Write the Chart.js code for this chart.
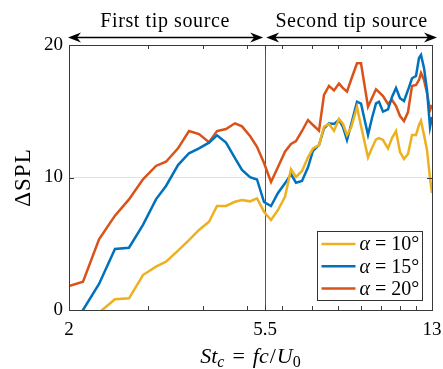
<!DOCTYPE html>
<html><head><meta charset="utf-8">
<script src="https://cdn.jsdelivr.net/npm/chart.js@4"></script>
<style>html,body{margin:0;padding:0;background:#fff;}#wrap{width:443px;height:369px;position:relative;}</style>
</head><body><div id="wrap"><canvas id="c" width="443" height="369"></canvas></div>
<script>
// Strouhal number St_c (x values)
const stc = [2.000, 2.150, 2.335, 2.535, 2.725, 2.929, 3.132, 3.298, 3.509, 3.713, 3.910, 4.117, 4.290, 4.494, 4.707, 4.880, 5.086, 5.273, 5.467, 5.668, 5.876, 6.092, 6.283, 6.447, 6.650, 6.859, 7.038, 7.259, 7.449, 7.643, 7.843, 8.048, 8.216, 8.387, 8.562, 8.831, 9.015, 9.346, 9.541, 9.740, 9.891, 10.098, 10.361, 10.577, 10.798, 11.023, 11.252, 11.487, 11.726, 11.971, 12.157, 12.283, 12.475, 12.669, 12.867, 13.000];
// ΔSPL for alpha = 10°
const dSPL10 = [null, null, -0.2, 0.81, 0.88, 2.64, 3.27, 3.65, 4.48, 5.28, 6.04, 6.66, 7.85, 7.85, 8.17, 8.30, 8.20, 8.43, 7.42, 6.79, 7.55, 8.55, 10.62, 10.04, 10.49, 11.52, 12.20, 12.45, 13.83, 14.04, 13.53, 14.42, 14.04, 13.21, 13.74, 15.32, 13.89, 11.52, 12.23, 12.88, 12.98, 12.83, 12.20, 12.98, 13.51, 11.92, 11.40, 11.77, 13.21, 13.21, 13.96, 14.29, 13.21, 12.08, 9.96, 8.83];
// ΔSPL for alpha = 15°
const dSPL15 = [-1.7, 0, 1.96, 4.60, 4.70, 6.42, 8.35, 9.36, 10.94, 11.83, 12.20, 12.63, 13.18, 12.63, 11.47, 10.57, 10.02, 9.85, 8.15, 7.85, 8.83, 9.56, 10.26, 9.61, 9.74, 10.77, 12.02, 12.45, 13.71, 14.09, 14.04, 14.34, 13.81, 12.83, 13.96, 15.72, 15.58, 13.21, 14.49, 15.60, 15.72, 14.97, 15.15, 16.08, 16.75, 15.98, 15.77, 16.60, 17.49, 17.66, 19.02, 19.25, 18.26, 16.60, 13.81, 14.57];
// ΔSPL for alpha = 20°
const dSPL20 = [1.81, 2.14, 5.34, 7.12, 8.35, 9.86, 10.87, 11.19, 12.20, 13.51, 13.28, 12.66, 13.51, 13.66, 14.09, 13.86, 13.13, 12.32, 11.09, 9.66, 10.79, 11.95, 12.53, 12.75, 13.51, 14.34, 13.96, 13.53, 16.23, 16.91, 16.57, 17.09, 16.75, 16.48, 17.36, 18.62, 18.62, 15.34, 16.00, 16.66, 16.45, 16.15, 15.55, 15.85, 15.40, 14.64, 14.26, 14.94, 16.91, 16.98, 17.36, 17.89, 17.36, 16.38, 15.09, 15.47];

const alphaDeg = [10, 15, 20];
const seriesColors = ['#EDB120', '#0072BD', '#D95319'];
const xTicks = [2, 5.5, 13];
const xMinorTicks = [3, 4, 5, 6, 7, 8, 9, 10, 11, 12];
const yTicks = [0, 10, 20];
const dividerSt = 5.5;
const regionLabels = ['First tip source', 'Second tip source'];

const SERIF = '"Liberation Serif", "DejaVu Serif", serif';
const AXC = '#3a3a3a';

function toPts(arr) {
  return stc.map((x, i) => ({x: x, y: arr[i]})).filter(p => p.y !== null);
}
const allSeries = [dSPL10, dSPL15, dSPL20];

function arrowHead(ctx, x, y, dir) {
  ctx.beginPath();
  ctx.moveTo(x, y);
  ctx.lineTo(x - dir * 13, y - 5);
  ctx.lineTo(x - dir * 9, y);
  ctx.lineTo(x - dir * 13, y + 5);
  ctx.closePath();
  ctx.fill();
}

function drawSegments(ctx, segs, cx, baseY) {
  let total = 0;
  segs.forEach(s => { ctx.font = s.font; s.w = ctx.measureText(s.t).width + (s.gap || 0) * 2; total += s.w; });
  let x = cx - total / 2;
  segs.forEach(s => {
    ctx.font = s.font;
    ctx.fillText(s.t, x + (s.gap || 0), baseY + (s.dy || 0));
    x += s.w;
  });
}

const overlay = {
  id: 'overlay',
  beforeDatasetsDraw(chart) {
    const {ctx, chartArea: a, scales: {x}} = chart;
    const px = Math.round(x.getPixelForValue(dividerSt)) + 0.5;
    ctx.save();
    ctx.strokeStyle = '#555';
    ctx.lineWidth = 1;
    ctx.beginPath(); ctx.moveTo(px, a.top); ctx.lineTo(px, a.bottom); ctx.stroke();
    ctx.restore();
  },
  afterDraw(chart) {
    const {ctx, chartArea: a, scales: {x, y}} = chart;
    ctx.save();
    // box
    ctx.strokeStyle = AXC;
    ctx.lineWidth = 1;
    ctx.strokeRect(Math.round(a.left) + 0.5, Math.round(a.top) + 0.5, Math.round(a.right - a.left), Math.round(a.bottom - a.top));
    // inward ticks
    ctx.beginPath();
    xTicks.concat(xMinorTicks).forEach(v => {
      const len = xTicks.includes(v) ? 5 : 4;
      const px = Math.round(x.getPixelForValue(v)) + 0.5;
      ctx.moveTo(px, a.bottom); ctx.lineTo(px, a.bottom - len);
      ctx.moveTo(px, a.top); ctx.lineTo(px, a.top + len);
    });
    yTicks.forEach(v => {
      const py = Math.round(y.getPixelForValue(v)) + 0.5;
      ctx.moveTo(a.left, py); ctx.lineTo(a.left + 5, py);
      ctx.moveTo(a.right, py); ctx.lineTo(a.right - 5, py);
    });
    ctx.stroke();

    // region arrows
    const pDiv = x.getPixelForValue(dividerSt);
    const ay = 37.5;
    const segsA = [[a.left - 1, pDiv - 2], [pDiv + 1, a.right + 5]];
    ctx.strokeStyle = '#000'; ctx.fillStyle = '#000'; ctx.lineWidth = 1.6;
    segsA.forEach(([x1, x2], i) => {
      ctx.beginPath(); ctx.moveTo(x1 + 8, ay); ctx.lineTo(x2 - 8, ay); ctx.stroke();
      arrowHead(ctx, x1, ay, -1);
      arrowHead(ctx, x2, ay, 1);
      ctx.font = '20px ' + SERIF;
      ctx.letterSpacing = '0.6px';
      ctx.textAlign = 'center'; ctx.textBaseline = 'alphabetic';
      ctx.fillText(regionLabels[i], (x1 + x2) / 2 + (i === 0 ? -0.5 : 0), 26.5);
      ctx.letterSpacing = '0px';
    });

    // legend
    const lw = 105, lh = 69;
    const lx = Math.round(a.right - 10 - lw) + 0.5, ly = Math.round(a.bottom - 10 - lh) + 0.5;
    ctx.fillStyle = '#fff';
    ctx.fillRect(lx, ly, lw, lh);
    ctx.strokeStyle = '#333'; ctx.lineWidth = 1;
    ctx.strokeRect(lx, ly, lw, lh);
    ctx.textAlign = 'left'; ctx.textBaseline = 'middle';
    alphaDeg.forEach((d, i) => {
      const cy = ly + 12.5 + i * 22.3;
      ctx.strokeStyle = seriesColors[i]; ctx.lineWidth = 2.5;
      ctx.beginPath(); ctx.moveTo(lx + 4, cy); ctx.lineTo(lx + 38, cy); ctx.stroke();
      ctx.fillStyle = '#000';
      ctx.font = 'italic 20px ' + SERIF;
      ctx.fillText('α', lx + 42, cy + 1);
      const wA = ctx.measureText('α').width;
      ctx.font = '20px ' + SERIF;
      ctx.fillText(' = ' + d + '°', lx + 42 + wA, cy + 1);
    });

    // x axis title with subscripts
    ctx.fillStyle = '#000';
    ctx.textAlign = 'left'; ctx.textBaseline = 'alphabetic';
    drawSegments(ctx, [
      {t: 'St', font: 'italic 22px ' + SERIF},
      {t: 'c', font: 'italic 16px ' + SERIF, dy: 4},
      {t: '=', font: '22px ' + SERIF, gap: 8},
      {t: 'fc', font: 'italic 22px ' + SERIF},
      {t: '/', font: '22px ' + SERIF, gap: 1},
      {t: 'U', font: 'italic 22px ' + SERIF},
      {t: '0', font: '16px ' + SERIF, dy: 4}
    ], (a.left + a.right) / 2, 363);

    // y axis title
    ctx.save();
    ctx.translate(24, (a.top + a.bottom) / 2);
    ctx.rotate(-Math.PI / 2);
    ctx.textAlign = 'center'; ctx.textBaseline = 'middle';
    ctx.font = '23px ' + SERIF;
    ctx.letterSpacing = '1px';
    ctx.fillText('ΔSPL', 0, 0);
    ctx.restore();
    ctx.restore();
  }
};

new Chart(document.getElementById('c'), {
  type: 'line',
  data: {
    datasets: allSeries.map((arr, i) => ({
      label: 'α = ' + alphaDeg[i] + '°',
      data: toPts(arr),
      borderColor: seriesColors[i],
      backgroundColor: seriesColors[i],
      borderWidth: 2.5,
      pointRadius: 0,
      tension: 0,
      fill: false,
      clip: 0
    }))
  },
  options: {
    responsive: false,
    animation: false,
    devicePixelRatio: 1,
    layout: {padding: {top: 45, right: 11, left: 0, bottom: 0}},
    plugins: {legend: {display: false}, tooltip: {enabled: false}},
    scales: {
      x: {
        type: 'logarithmic', min: 2, max: 13,
        afterBuildTicks: s => { s.ticks = xTicks.map(v => ({value: v})); },
        afterFit: s => { s.height = 59; s.paddingLeft = 0; s.paddingRight = 0; },
        grid: {display: false, drawTicks: false},
        border: {display: false},
        ticks: {autoSkip: false, maxRotation: 0, padding: 9, color: '#000',
          font: {family: SERIF, size: 19}, callback: v => String(v)}
      },
      y: {
        type: 'linear', min: 0, max: 20,
        afterBuildTicks: s => { s.ticks = yTicks.map(v => ({value: v})); },
        afterFit: s => { s.width = 69; s.paddingTop = 0; s.paddingBottom = 0; },
        grid: {color: '#e3e3e3', lineWidth: 1, drawTicks: false},
        border: {display: false},
        ticks: {padding: 6, color: '#000', font: {family: SERIF, size: 19}}
      }
    }
  },
  plugins: [overlay]
});
</script></body></html>
